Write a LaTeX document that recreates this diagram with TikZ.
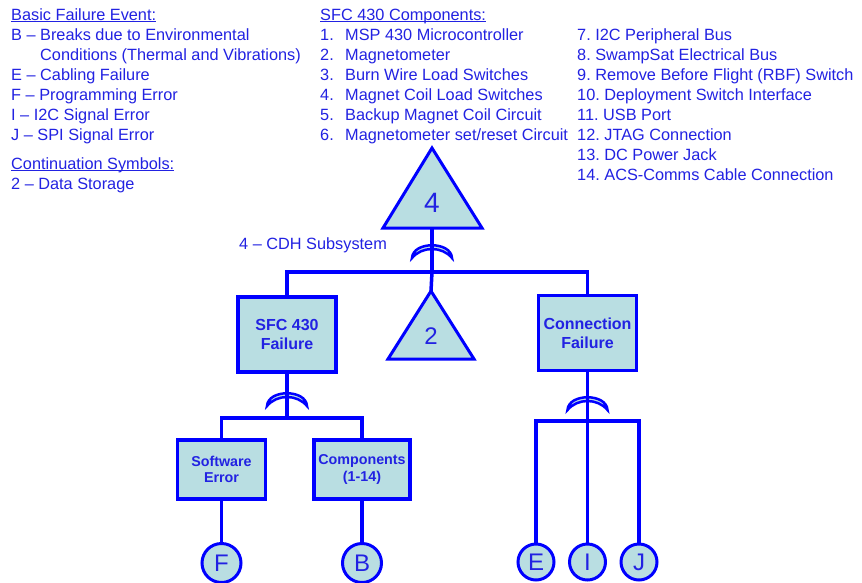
\documentclass[tikz,border=0pt]{standalone}
\usepackage{fontspec}
\setmainfont{Liberation Sans}
\frenchspacing
\begin{document}
\definecolor{wirecol}{RGB}{0,0,255}
\definecolor{inkcol}{RGB}{34,34,226}
\definecolor{boxfill}{RGB}{185,222,226}
\begin{tikzpicture}[x=1pt,y=-1pt,
  wire/.style={draw=wirecol,line width=3.5pt},
  legend/.style={anchor=base west,inner sep=0pt,text=inkcol,font=\fontsize{16.3}{20}\selectfont},
  eventbox/.style={draw=wirecol,line width=3.8pt,fill=boxfill,text=inkcol,align=center,inner sep=2pt},
  bigbox/.style={eventbox,minimum width=98pt,minimum height=75pt,font=\bfseries\fontsize{16}{19}\selectfont},
  smallbox/.style={eventbox,minimum height=59pt,font=\bfseries\fontsize{14.3}{16.5}\selectfont},
  basic/.style={circle,draw=wirecol,line width=3pt,fill=boxfill,text=inkcol,inner sep=0pt,font=\fontsize{24}{24}\selectfont},
  trifill/.style={draw=wirecol,line width=3pt,fill=boxfill,line join=miter},
  orgate/.style={draw=wirecol,line width=2.5pt,fill=boxfill,line join=miter}]
\useasboundingbox (0,0) rectangle (862,582);
\fill[white] (0,0) rectangle (862,582);

% ---- legend: basic failure events and continuation symbols
\newcommand{\headline}[1]{\underline{\smash{#1}}}
\node[legend] (lg0) at (11,20) {\headline{Basic Failure Event:}};
\node[legend] (lg1) at (11,40) {B -- Breaks due to Environmental};
\node[legend] (lg2) at (40,60) {Conditions (Thermal and Vibrations)};
\node[legend] (lg3) at (11,80) {E -- Cabling Failure};
\node[legend] (lg4) at (11,100) {F -- Programming Error};
\node[legend] (lg5) at (11,120) {I -- I2C Signal Error};
\node[legend] (lg6) at (11,140) {J -- SPI Signal Error};
\node[legend] (lg7) at (11,169) {\headline{Continuation Symbols:}};
\node[legend] (lg8) at (11,189) {2 -- Data Storage};

% ---- legend: SFC 430 components
\node[legend] (cm0) at (320,20) {\headline{SFC 430 Components:}};
\foreach \k/\txt [count=\i] in {1/{MSP 430 Microcontroller},2/{Magnetometer},3/{Burn Wire Load Switches},
    4/{Magnet Coil Load Switches},5/{Backup Magnet Coil Circuit},6/{Magnetometer set/reset Circuit}}{
  \node[legend] (cn\k) at (320,20+20*\i) {\k.};
  \node[legend] (ct\k) at (345,20+20*\i) {\txt};
}
\node[legend] (cr7)  at (577,40)  {7. I2C Peripheral Bus};
\node[legend] (cr8)  at (577,60)  {8. SwampSat Electrical Bus};
\node[legend] (cr9)  at (577,80)  {9. Remove Before Flight (RBF) Switch};
\node[legend] (cr10) at (577,100) {10. Deployment Switch Interface};
\node[legend] (cr11) at (577,120) {11. USB Port};
\node[legend] (cr12) at (577,140) {12. JTAG Connection};
\node[legend] (cr13) at (577,160) {13. DC Power Jack};
\node[legend] (cr14) at (577,180) {14. ACS-Comms Cable Connection};

% ---- top event: transfer triangle 4
\path[trifill] (432,148) -- (482,228) -- (383,228) -- cycle;
\node[text=inkcol,font=\fontsize{28}{28}\selectfont] (t4) at (432,203) {4};
\coordinate (t4base) at (432,228);
\node[legend] (cdh) at (239,249) {4 -- CDH Subsystem};

% ---- continuation triangle 2
\path[trifill] (431,291) -- (474,359) -- (388,359) -- cycle;
\node[text=inkcol,font=\fontsize{24}{24}\selectfont] (t2) at (431,336) {2};
\coordinate (t2top) at (431,291);

% ---- intermediate events
\node[bigbox] (sfc)  at (287,334.5) {SFC 430\\Failure};
\node[bigbox] (conn) at (587.5,333) {Connection\\Failure};
\node[smallbox,minimum width=88pt] (sw)   at (221.5,469.5) {Software\\Error};
\node[smallbox,minimum width=96pt] (comp) at (362,469.5) {Components\\(1-14)};

% ---- basic events
\node[basic,minimum size=39pt] (F) at (221.5,563) {F};
\node[basic,minimum size=39pt] (B) at (362,563) {B};
\node[basic,minimum size=36pt] (E) at (536,562) {E};
\node[basic,minimum size=36pt] (I) at (587.5,562) {I};
\node[basic,minimum size=36pt] (J) at (639,562) {J};

% ---- OR gates
\foreach \gx/\gy in {432/238, 287/386, 587.5/390}{
  \path[orgate] (\gx-20,\gy+20) .. controls (\gx-19,\gy+3) and (\gx+19,\gy+3) .. (\gx+20,\gy+20)
     .. controls (\gx+10,\gy+8) and (\gx-10,\gy+8) .. cycle;
}

% ---- connectors
\coordinate (j4) at (432,272);
\coordinate (jS) at (287,418);
\coordinate (jC) at (587.5,421);
\draw[wire] (t4base) -- (j4);
\draw[wire] (sfc.north) |- (j4) -| (conn.north);
\draw[wire] (j4) -- (t2top);
\draw[wire] (sfc.south) -- (jS);
\draw[wire] (sw.north) |- (jS) -| (comp.north);
\draw[wire] (sw.south) -- (F.north);
\draw[wire] (comp.south) -- (B.north);
\draw[wire] (conn.south) -- (jC);
\draw[wire] (E.north) |- (jC) -| (J.north);
\draw[wire] (jC) -- (I.north);
\end{tikzpicture}
\end{document}
